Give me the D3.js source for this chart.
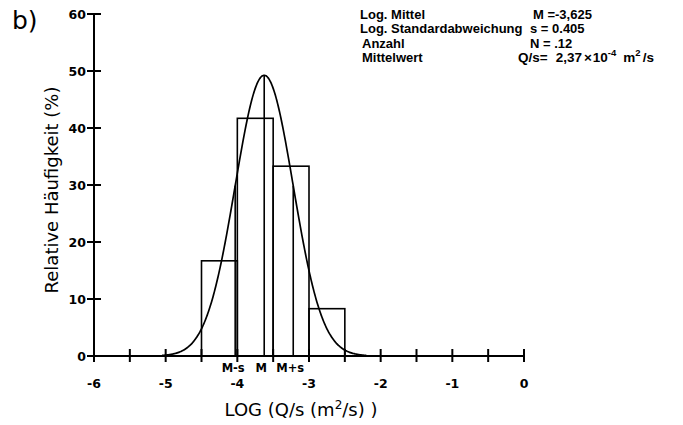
<!DOCTYPE html>
<html><head><meta charset="utf-8">
<script src="https://cdn.jsdelivr.net/npm/d3@7/dist/d3.min.js"></script>
<style>
body{margin:0;background:#fff;}
svg{display:block;}
text{fill:#000;}
</style></head>
<body>
<svg id="c" width="683" height="425"></svg>
<script>
// ---- data ----
const binEdges = [-4.5, -4.0, -3.5, -3.0, -2.5];
const freq = [16.7, 41.7, 33.3, 8.3];           // relative frequency (%)
const xTicks = [-6, -5, -4, -3, -2, -1, 0];
const xMinorTicks = [-5.5, -4.5, -3.5, -2.5, -1.5, -0.5];
const yTicks = [0, 10, 20, 30, 40, 50, 60];
const M = -3.625, S = 0.405, N = 12;
const markerLabels = ["M-s", "M", "M+s"];
const markerValues = [M - S, M, M + S];
const legendLeft = ["Log. Mittel", "Log. Standardabweichung", "Anzahl", "Mittelwert"];

const svg = d3.select("#c");
const x = d3.scaleLinear().domain([-6, 0]).range([94, 524]);
const y = d3.scaleLinear().domain([0, 60]).range([356, 14]);
const binW = 0.5;
const dens = v => 100 * binW / (S * Math.sqrt(2 * Math.PI)) * Math.exp(-0.5 * ((v - M) / S) ** 2);

const font = "'DejaVu Sans', sans-serif";
const lfont = "'Liberation Sans', Arial, sans-serif";

// bars
const bars = freq.map((f, i) => ({x0: binEdges[i], x1: binEdges[i + 1], v: f}));
svg.append("g").selectAll("rect").data(bars).join("rect")
  .attr("x", d => x(d.x0)).attr("y", d => y(d.v))
  .attr("width", d => x(d.x1) - x(d.x0)).attr("height", d => y(0) - y(d.v))
  .attr("fill", "none").attr("stroke", "#000").attr("stroke-width", 1.6);

// M, M-s, M+s lines up to curve
svg.append("g").selectAll("line").data(markerValues).join("line")
  .attr("x1", d => x(d)).attr("x2", d => x(d))
  .attr("y1", y(0)).attr("y2", d => y(dens(d)))
  .attr("stroke", "#000").attr("stroke-width", 1.6);

// normal curve
const pts = d3.range(-5.05, -2.2 + 1e-9, 0.01);
svg.append("path").datum(pts)
  .attr("d", d3.line().x(d => x(d)).y(d => y(dens(d))).curve(d3.curveBasis))
  .attr("fill", "none").attr("stroke", "#000").attr("stroke-width", 1.7);

// axes
svg.append("line").attr("x1", x(-6)).attr("x2", x(0)).attr("y1", y(0)).attr("y2", y(0))
  .attr("stroke", "#000").attr("stroke-width", 2);
svg.append("line").attr("x1", x(-6)).attr("x2", x(-6)).attr("y1", y(60)).attr("y2", y(0) + 5)
  .attr("stroke", "#000").attr("stroke-width", 2);

const allX = xTicks.concat(xMinorTicks);
svg.append("g").selectAll("line").data(allX).join("line")
  .attr("x1", d => x(d)).attr("x2", d => x(d)).attr("y1", y(0) - 7).attr("y2", y(0) + 6)
  .attr("stroke", "#000").attr("stroke-width", 2);
svg.append("g").selectAll("text").data(xTicks).join("text")
  .attr("x", d => x(d)).attr("y", 388).attr("text-anchor", "middle")
  .attr("font-family", font).attr("font-weight", "bold").attr("font-size", 12.5)
  .text(d => d === 0 ? "0" : "-" + Math.abs(d));

svg.append("g").selectAll("line").data(yTicks).join("line")
  .attr("x1", x(-6) - 7).attr("x2", x(-6) + 7).attr("y1", d => y(d)).attr("y2", d => y(d))
  .attr("stroke", "#000").attr("stroke-width", 2);
svg.append("g").selectAll("text").data(yTicks).join("text")
  .attr("x", 86).attr("y", d => y(d) + 4.5).attr("text-anchor", "end")
  .attr("font-family", font).attr("font-weight", "bold").attr("font-size", 12.5)
  .text(d => d);

// marker labels
svg.append("g").selectAll("text").data(markerLabels).join("text")
  .attr("x", (d, i) => x(markerValues[i]) + (i === 1 ? -3 : (i === 0 ? -2 : -3)))
  .attr("y", 372).attr("text-anchor", "middle")
  .attr("font-family", font).attr("font-weight", "bold").attr("font-size", 11.5)
  .text(d => d);

// axis titles
const xt = svg.append("text").attr("x", 301).attr("y", 416).attr("text-anchor", "middle")
  .attr("font-family", font).attr("font-size", 18);
xt.append("tspan").text("LOG (Q/s (m");
xt.append("tspan").attr("dy", -7).attr("font-size", 12).text("2");
xt.append("tspan").attr("dy", 7).text("/s) )");

svg.append("text").attr("transform", "translate(58,190) rotate(-90)").attr("text-anchor", "middle")
  .attr("font-family", font).attr("font-size", 18)
  .text("Relative  Häufigkeit  (%)");

svg.append("text").attr("x", 12).attr("y", 29).attr("font-family", font).attr("font-size", 25).text("b)");

// legend
const lf = 13;
svg.append("g").selectAll("text").data(legendLeft).join("text")
  .attr("x", (d, i) => i >= 2 ? 362 : 360).attr("y", (d, i) => 19 + i * 14.3)
  .attr("font-family", lfont).attr("font-weight", "bold").attr("font-size", lf)
  .text(d => d);
const rt = (xx, yy) => svg.append("text").attr("x", xx).attr("y", yy)
  .attr("font-family", lfont).attr("font-weight", "bold").attr("font-size", lf);
rt(533, 19).text("M =" + "-3,625");
rt(530, 33.3).text("s = " + S.toFixed(3));
rt(530, 47.6).text("N = ." + N);
const mt = rt(518, 62).attr("font-size", 13.5);
mt.append("tspan").text("Q/s=");
mt.append("tspan").attr("dx", 8).text("2,37");
mt.append("tspan").attr("dx", 2).text("\u00d7");
mt.append("tspan").attr("dx", 1).text("10");
mt.append("tspan").attr("dy", -6).attr("font-size", 9.5).text("-4");
mt.append("tspan").attr("dy", 6).attr("dx", 7).text("m");
mt.append("tspan").attr("dy", -6).attr("font-size", 9.5).text("2");
mt.append("tspan").attr("dy", 6).attr("dx", 2).text("/s");
</script>
</body></html>
